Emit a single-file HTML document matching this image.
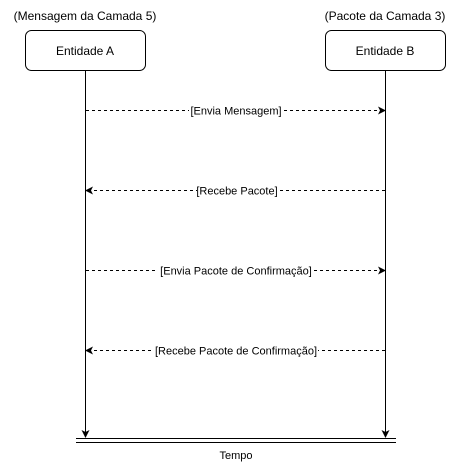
<!DOCTYPE html>
<html><head><style>body{margin:0;background:#fff}</style></head><body>
<svg width="455" height="471" xmlns="http://www.w3.org/2000/svg" font-family="Liberation Sans, sans-serif">
<defs><marker id="a" markerWidth="8" markerHeight="8" refX="7" refY="4" orient="auto" markerUnits="userSpaceOnUse"><path d="M0,0 L8,4 L0,8 L2,4z" fill="#000"/></marker></defs>
<text x="85" y="20" font-size="12" text-anchor="middle">(Mensagem da Camada 5)</text>
<text x="385" y="20" font-size="12" text-anchor="middle">(Pacote da Camada 3)</text>
<rect x="25.5" y="30.5" width="120" height="40" rx="6" fill="#fff" stroke="#000"/>
<rect x="325.5" y="30.5" width="120" height="40" rx="6" fill="#fff" stroke="#000"/>
<text x="85" y="55" font-size="12" text-anchor="middle">Entidade A</text>
<text x="385" y="55" font-size="12" text-anchor="middle">Entidade B</text>
<line x1="85.5" y1="70" x2="85.5" y2="437" stroke="#000" marker-end="url(#a)"/>
<line x1="385.5" y1="70" x2="385.5" y2="437" stroke="#000" marker-end="url(#a)"/>
<line x1="76" y1="438.5" x2="396" y2="438.5" stroke="#000"/>
<line x1="76" y1="442.5" x2="396" y2="442.5" stroke="#000"/>
<text x="236" y="459" font-size="11" text-anchor="middle">Tempo</text>
<g stroke="#000" stroke-dasharray="3,3" fill="none">
<line x1="86" y1="110.5" x2="385" y2="110.5" marker-end="url(#a)"/>
<line x1="385" y1="190.5" x2="86" y2="190.5" marker-end="url(#a)"/>
<line x1="86" y1="270.5" x2="385" y2="270.5" marker-end="url(#a)"/>
<line x1="385" y1="350.5" x2="86" y2="350.5" marker-end="url(#a)"/>
</g>
<g font-size="11" text-anchor="middle">
<rect x="189" y="104" width="93" height="13" fill="#fff"/><text x="236" y="114.5">[Envia Mensagem]</text>
<rect x="197" y="184" width="80" height="13" fill="#fff"/><text x="237" y="194.5">[Recebe Pacote]</text>
<rect x="158" y="264" width="156" height="13" fill="#fff"/><text x="236" y="274.5">[Envia Pacote de Confirmação]</text>
<rect x="154" y="344" width="164" height="13" fill="#fff"/><text x="236" y="354.5">[Recebe Pacote de Confirmação]</text>
</g>
</svg>
</body></html>
